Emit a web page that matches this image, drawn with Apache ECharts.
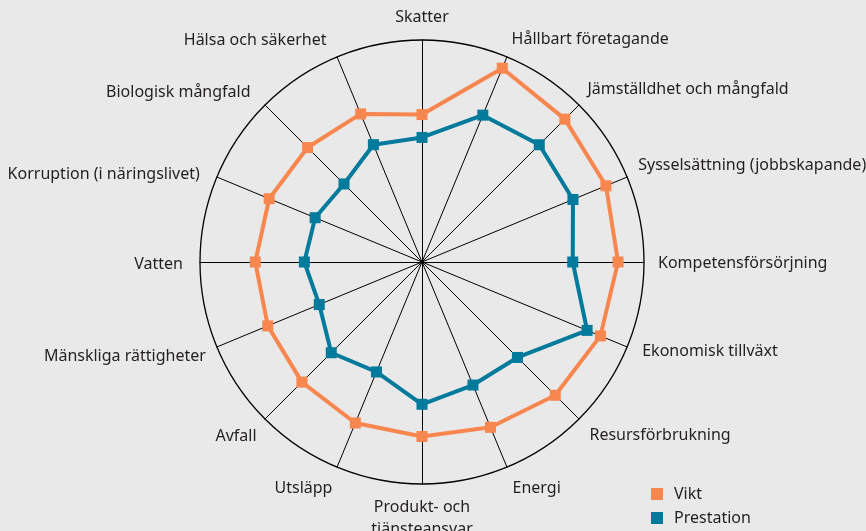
<!DOCTYPE html>
<html>
<head>
<meta charset="utf-8">
<script src="https://cdn.jsdelivr.net/npm/echarts@6/dist/echarts.min.js"></script>
<style>
html,body{margin:0;padding:0;background:#e9e9e9;}
#c{width:866px;height:531px;}
</style>
</head>
<body>
<div id="c"></div>
<script>
// Indicators in clockwise order starting at the top
const categories = [
  'Skatter', 'Hållbart företagande', 'Jämställdhet och mångfald', 'Sysselsättning (jobbskapande)',
  'Kompetensförsörjning', 'Ekonomisk tillväxt', 'Resursförbrukning', 'Energi',
  'Produkt- och\ntjänsteansvar', 'Utsläpp', 'Avfall', 'Mänskliga rättigheter',
  'Vatten', 'Korruption (i näringslivet)', 'Biologisk mångfald', 'Hälsa och säkerhet'
];
const vikt = [66.4, 94.5, 91.0, 89.7, 88.3, 87.0, 84.9, 80.6, 78.6, 78.5, 76.5, 75.2, 75.1, 74.5, 72.9, 72.2];
const prestation = [56.1, 71.6, 74.7, 73.6, 67.9, 80.5, 60.8, 60.0, 64.1, 53.6, 57.8, 50.1, 53.0, 52.1, 49.7, 57.2];
const seriesNames = ['Vikt', 'Prestation'];
const maxValue = 100;

// Label nudges (style only), same clockwise order as categories: [dx, dy]
const labelNudge = [
  [0, 0], [0, -6], [0, -7], [0, -7],
  [2, 1], [4, 0], [2, 8], [1, 10],
  [0, 0], [0, 10], [0, 9], [0, 5],
  [-5, 2], [-6, 2], [-6, -4], [-6, -5]
];

// ECharts radar places indicators counter-clockwise; reverse all but the first
function toCCW(arr) { return [arr[0]].concat(arr.slice(1).reverse()); }

const FONT = 'Noto Sans';
const TXT = '#231f20';
const FS = 16;
const rich = {};
categories.forEach((name, i) => {
  const [dx, dy] = labelNudge[i];
  // indices 1..7 are on the right (left aligned), 9..15 on the left (right aligned)
  const pad = [0, 0, 0, 0];
  if (dy > 0) pad[0] = 2 * dy; else pad[2] = -2 * dy;
  if (i >= 1 && i <= 7) { if (dx > 0) pad[3] = dx; }
  else if (i >= 9) { if (dx < 0) pad[1] = -dx; }
  rich['n' + i] = {color: TXT, fontSize: FS, fontFamily: FONT, padding: pad};
});

const chart = echarts.init(document.getElementById('c'), null, {renderer: 'canvas'});
chart.setOption({
  backgroundColor: '#e9e9e9',
  animation: false,
  legend: {
    data: seriesNames,
    orient: 'vertical',
    left: 651,
    top: 486,
    height: 60,
    padding: 0,
    itemWidth: 12,
    itemHeight: 12,
    itemGap: 8,
    icon: 'rect',
    textStyle: {color: TXT, fontSize: FS, fontFamily: FONT, padding: [0, 0, 0, 6]}
  },
  radar: {
    center: [422, 262],
    radius: 222,
    startAngle: 90,
    shape: 'circle',
    splitNumber: 1,
    nameGap: 12,
    axisName: {
      color: TXT, fontSize: FS, fontFamily: FONT, lineHeight: 22,
      formatter: function (name) {
        const i = categories.indexOf(name);
        if (i === 0 || i === 8) return name;
        return '{n' + i + '|' + name + '}';
      },
      rich: rich
    },
    axisLine: {lineStyle: {color: '#000', width: 1}},
    splitLine: {lineStyle: {color: '#000', width: 1.3}},
    splitArea: {show: false},
    axisTick: {show: false},
    axisLabel: {show: false},
    indicator: toCCW(categories).map(n => ({name: n, min: 0, max: maxValue}))
  },
  series: [{
    type: 'radar',
    symbol: 'rect',
    symbolSize: 11,
    data: [
      {name: seriesNames[0], value: toCCW(vikt),
       itemStyle: {color: '#f7874f'}, lineStyle: {color: '#f7874f', width: 4}},
      {name: seriesNames[1], value: toCCW(prestation),
       itemStyle: {color: '#017a9b'}, lineStyle: {color: '#017a9b', width: 4}}
    ]
  }]
});
</script>
</body>
</html>
